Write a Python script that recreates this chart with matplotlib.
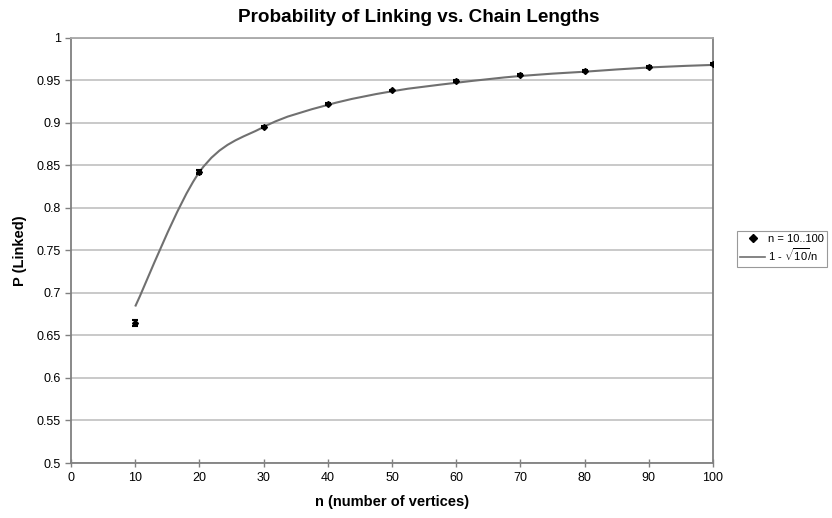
import numpy as np
import matplotlib
matplotlib.use("Agg")
import matplotlib.pyplot as plt
from matplotlib.path import Path
from matplotlib.patches import PathPatch
from matplotlib.lines import Line2D

plt.rcParams['font.family'] = ['Liberation Sans', 'DejaVu Sans']
plt.rcParams['mathtext.fontset'] = 'custom'
plt.rcParams['mathtext.rm'] = 'Liberation Sans'

# datos
n_vals = [10, 20, 30, 40, 50, 60, 70, 80, 90, 100]
p_linked = [0.665, 0.842, 0.895, 0.922, 0.938, 0.949, 0.956, 0.961, 0.9655, 0.969]
p_err = [0.0035, 0.002, 0.0012, 0.001, 0.001, 0.001, 0.001, 0.001, 0.001, 0.001]
curva = [0.684, 0.842, 0.895, 0.921, 0.937, 0.947, 0.955, 0.960, 0.965, 0.968]

x_ticks = list(range(0, 101, 10))
y_ticks = [0.5, 0.55, 0.6, 0.65, 0.7, 0.75, 0.8, 0.85, 0.9, 0.95, 1]
y_labels = ['0.5', '0.55', '0.6', '0.65', '0.7', '0.75', '0.8', '0.85', '0.9', '0.95', '1']


def curva_suave(xs, ys):
    # curva tipo Excel (bezier por Catmull-Rom) a partir de los puntos
    xs = np.asarray(xs, float)
    ys = np.asarray(ys, float)
    verts = [(xs[0], ys[0])]
    codes = [Path.MOVETO]
    m = len(xs)
    for i in range(m - 1):
        x0, y0 = (xs[i - 1], ys[i - 1]) if i > 0 else (xs[i], ys[i])
        x3, y3 = (xs[i + 2], ys[i + 2]) if i + 2 < m else (xs[i + 1], ys[i + 1])
        c1 = (xs[i] + (xs[i + 1] - x0) / 6, ys[i] + (ys[i + 1] - y0) / 6)
        c2 = (xs[i + 1] - (x3 - xs[i]) / 6, ys[i + 1] - (y3 - ys[i]) / 6)
        verts += [c1, c2, (xs[i + 1], ys[i + 1])]
        codes += [Path.CURVE4] * 3
    return Path(verts, codes)


fig = plt.figure(figsize=(8.32, 5.18), dpi=100)
ax = fig.add_axes([71 / 832, 1 - 463 / 518, (713 - 71) / 832, (463 - 37.7) / 518])

gris = '#808080'
ax.set_xlim(0, 100)
ax.set_ylim(0.5, 1)
ax.set_xticks(x_ticks)
ax.set_yticks(y_ticks)
ax.set_yticklabels(y_labels)
ax.tick_params(axis='both', labelsize=9, color=gris, length=4, width=1)
ax.tick_params(axis='x', direction='inout', length=6)
ax.grid(True, axis='y', color='#c0c0c0', linewidth=1.2)
ax.set_axisbelow(True)
for lado in ['left', 'bottom', 'right', 'top']:
    ax.spines[lado].set_color(gris)
    ax.spines[lado].set_linewidth(1.3)
ax.spines['top'].set_color('#a8a8a8')

patch = PathPatch(curva_suave(n_vals, curva), facecolor='none', edgecolor='#707070', linewidth=1.5, zorder=3)
ax.add_patch(patch)

ax.errorbar(n_vals, p_linked, yerr=p_err, fmt='D', color='black', markersize=3,
            ecolor='black', elinewidth=1.2, capsize=2.5, capthick=1.5, zorder=4)

fig.text(419 / 832, 1 - 18 / 518, 'Probability of Linking vs. Chain Lengths', fontsize=13.6,
         fontweight='bold', ha='center', va='center')
ax.set_xlabel('n (number of vertices)', fontsize=10.5, fontweight='bold', labelpad=8)
ax.set_ylabel('P (Linked)', fontsize=10.5, fontweight='bold', labelpad=7)

handles = [Line2D([], [], marker='D', color='black', linestyle='none', markersize=4),
           Line2D([], [], color='#707070', linewidth=1.2)]
leg = fig.legend(handles, ['n = 10..100', r'1 - $\sqrt{10}$/n'], loc='upper left',
                 bbox_to_anchor=(737 / 832, 1 - 231 / 518), fontsize=8, fancybox=False,
                 handlelength=2.2, handletextpad=0.3, borderpad=0.3, labelspacing=0.2,
                 borderaxespad=0)
leg.get_frame().set_edgecolor(gris)
leg.get_frame().set_linewidth(0.8)

fig.savefig('out.png', dpi=100)
